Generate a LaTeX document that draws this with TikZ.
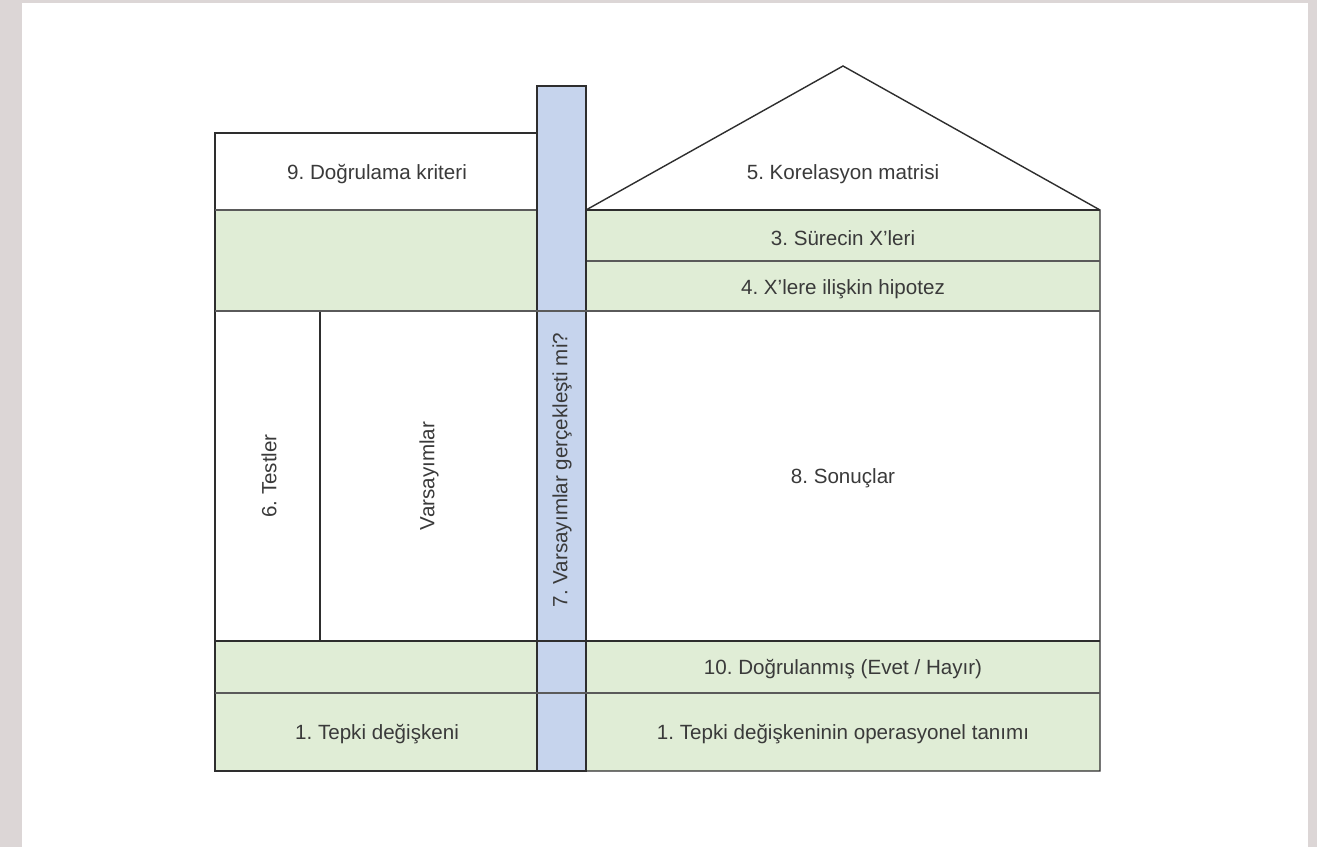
\documentclass[tikz,border=0pt]{standalone}
\usepackage{fontspec}
\setmainfont{Liberation Sans}
\frenchspacing
\definecolor{bggray}{HTML}{DCD6D6}
\definecolor{gfill}{HTML}{E0EDD6}
\definecolor{bfill}{HTML}{C6D4ED}
\definecolor{lc}{HTML}{2E2E2E}
\definecolor{lc2}{HTML}{5A5A5A}
\definecolor{tc}{HTML}{3A3A3A}
\begin{document}
\begin{tikzpicture}[x=1pt,y=-1pt,
  box/.style={draw=lc, line width=1.4pt},
  sep/.style={draw=lc2, line width=1.6pt},
  lbl/.style={text=tc, font=\fontsize{20.6}{24}\selectfont, inner sep=0pt, anchor=center}]
\useasboundingbox (0,0) rectangle (1317,847);
\fill[bggray] (0,0) rectangle (1317,847);
\fill[white] (22,3) rectangle (1308,847);
% fills
\fill[gfill] (215,210) rectangle (537,311);
\fill[gfill] (586,210) rectangle (1100,311);
\fill[gfill] (215,641) rectangle (1100,771);
% left outline
\draw[box] (537,133) -- (215,133) -- (215,771) -- (537,771);
\draw[sep] (215,210) -- (537,210);
% roof and right outline
\draw[box] (586,210) -- (843,66) -- (1100,210) -- (1100,771) -- (586,771);
\draw[box] (586,210) -- (1100,210);
\draw[sep] (586,261) -- (1100,261);
\draw[box] (320,311) -- (320,641);
% blue column
\draw[box, fill=bfill] (537,86) rectangle (586,771);
% horizontal separators across
\draw[sep] (215,311) -- (1100,311);
\draw[box] (215,641) -- (1100,641);
\draw[sep] (215,693) -- (1100,693);
% labels
\node[lbl] (n9) at (377,174) {9. Doğrulama kriteri};
\node[lbl] (n5) at (843,174) {5. Korelasyon matrisi};
\node[lbl] (n3) at (843,238) {3. Sürecin X’leri};
\node[lbl] (n4) at (843,289) {4. X’lere ilişkin hipotez};
\node[lbl, rotate=90] (n6) at (269,476) {6. Testler};
\node[lbl, rotate=90] (nv) at (429,476) {Varsayımlar};
\node[lbl, rotate=90] (n7) at (562,470) {7. Varsayımlar gerçekleşti mi?};
\node[lbl] (n8) at (843,478) {8. Sonuçlar};
\node[lbl] (n10) at (843,669) {10. Doğrulanmış (Evet / Hayır)};
\node[lbl] (n1a) at (377,734) {1. Tepki değişkeni};
\node[lbl] (n1b) at (843,734) {1. Tepki değişkeninin operasyonel tanımı};
\end{tikzpicture}
\end{document}
